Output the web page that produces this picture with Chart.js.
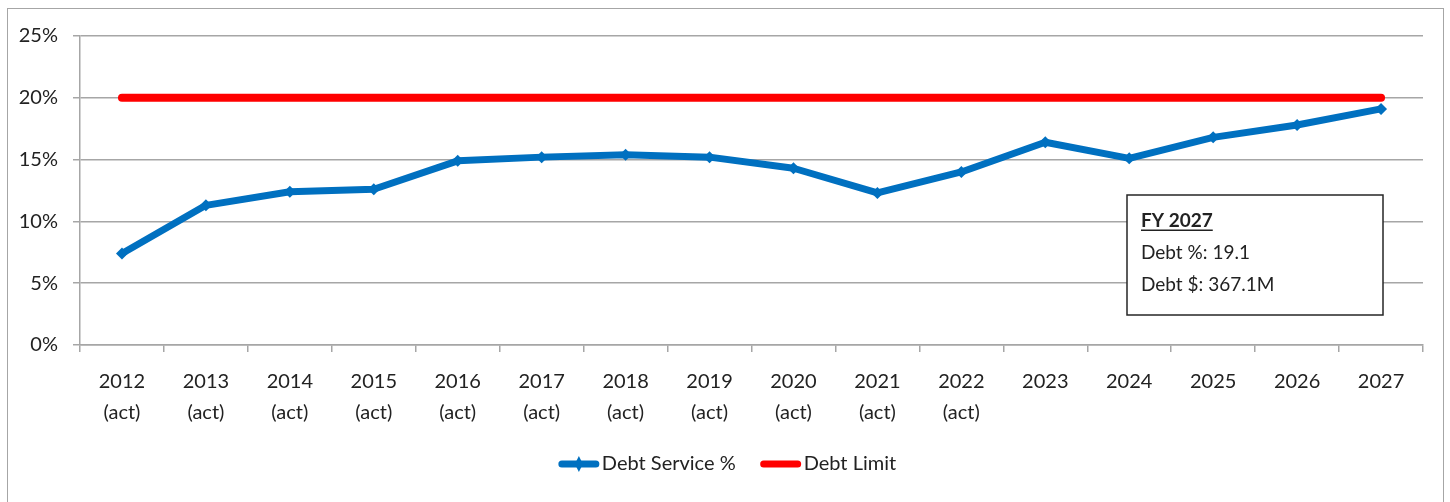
<!DOCTYPE html>
<html>
<head>
<meta charset="utf-8">
<script src="https://cdn.jsdelivr.net/npm/chart.js@4.4.1/dist/chart.umd.min.js"></script>
<style>
  html, body { margin: 0; padding: 0; background: #fff; }
  #wrap { position: relative; width: 1450px; height: 502px; overflow: hidden; }
  #frame { position: absolute; left: 7px; top: 8px; width: 1437px; height: 520px; border: 1.5px solid #a6a6a6; box-sizing: border-box; pointer-events: none; }
  canvas { position: absolute; left: 0; top: 0; }
</style>
</head>
<body>
<div id="wrap">
  <canvas id="c" width="1450" height="502"></canvas>
  <div id="frame"></div>
</div>
<script>
const years = ['2012','2013','2014','2015','2016','2017','2018','2019','2020','2021','2022','2023','2024','2025','2026','2027'];
const yearNotes = ['(act)','(act)','(act)','(act)','(act)','(act)','(act)','(act)','(act)','(act)','(act)','','','','',''];
const debtServicePct = [7.4, 11.3, 12.4, 12.6, 14.9, 15.2, 15.4, 15.2, 14.3, 12.3, 14.0, 16.4, 15.1, 16.8, 17.8, 19.1];
const debtLimit = [20, 20, 20, 20, 20, 20, 20, 20, 20, 20, 20, 20, 20, 20, 20, 20];
const yTicks = [0, 5, 10, 15, 20, 25];
const noteLines = ['FY 2027', 'Debt %: 19.1', 'Debt $: 367.1M'];

const FONT = 'Lato, "Liberation Sans", sans-serif';
const TXT = '#222222';
const GRID = '#a6a6a6';

const labels = years.map((y, i) => [y, yearNotes[i]]);

const customLegend = {
  id: 'customLegend',
  afterDraw(chart) {
    const ctx = chart.ctx;
    ctx.save();
    ctx.font = '20px ' + FONT;
    const items = chart.data.datasets.map(d => ({ text: d.label, color: d.borderColor, marker: d.pointRadius > 0, lw: d.borderWidth }));
    const sample = 42, gapT = 2, gapItem = 24;
    let total = 0;
    items.forEach((it, i) => { total += sample + gapT + ctx.measureText(it.text).width + (i < items.length - 1 ? gapItem : 0); });
    let x = 727 - total / 2;
    const y = 464;
    items.forEach(it => {
      ctx.strokeStyle = it.color;
      ctx.lineWidth = 7;
      ctx.lineCap = 'round';
      ctx.beginPath();
      ctx.moveTo(x + 4, y);
      ctx.lineTo(x + sample - 4, y);
      ctx.stroke();
      if (it.marker) {
        ctx.fillStyle = it.color;
        const cx = x + sample / 2, r = 8;
        ctx.beginPath();
        ctx.moveTo(cx, y - r); ctx.lineTo(cx + 4, y); ctx.lineTo(cx, y + r); ctx.lineTo(cx - 4, y);
        ctx.closePath(); ctx.fill();
      }
      ctx.fillStyle = TXT;
      ctx.textBaseline = 'middle';
      ctx.textAlign = 'left';
      ctx.fillText(it.text, x + sample + gapT, y);
      x += sample + gapT + ctx.measureText(it.text).width + gapItem;
    });
    ctx.restore();
  }
};

const noteBox = {
  id: 'noteBox',
  afterDraw(chart) {
    const ctx = chart.ctx;
    const left = 1127, top = 195, w = 256, h = 120;
    ctx.save();
    ctx.fillStyle = '#ffffff';
    ctx.fillRect(left, top, w, h);
    ctx.strokeStyle = '#262626';
    ctx.lineWidth = 1.5;
    ctx.strokeRect(left, top, w, h);
    ctx.fillStyle = TXT;
    ctx.textBaseline = 'alphabetic';
    ctx.textAlign = 'left';
    const tx = 1141;
    ctx.font = 'bold 19px ' + FONT;
    ctx.fillText(noteLines[0], tx, 227);
    const uw = ctx.measureText(noteLines[0]).width;
    ctx.fillRect(tx, 229.5, uw, 1.5);
    ctx.font = '19px ' + FONT;
    ctx.fillText(noteLines[1], tx, 259);
    ctx.fillText(noteLines[2], tx, 291);
    ctx.restore();
  }
};

new Chart(document.getElementById('c'), {
  type: 'line',
  data: {
    labels: labels,
    datasets: [
      {
        label: 'Debt Service %',
        data: debtServicePct,
        borderColor: '#0070C0',
        backgroundColor: '#0070C0',
        borderWidth: 7,
        borderJoinStyle: 'round',
        pointStyle: 'rectRot',
        pointRadius: 6,
        pointBorderWidth: 0,
        pointBackgroundColor: '#0070C0',
        tension: 0,
        order: 1
      },
      {
        label: 'Debt Limit',
        data: debtLimit,
        borderColor: '#FF0000',
        backgroundColor: '#FF0000',
        borderWidth: 8,
        borderCapStyle: 'round',
        pointRadius: 0,
        tension: 0,
        order: 2
      }
    ]
  },
  options: {
    responsive: false,
    animation: false,
    events: [],
    layout: { padding: { left: 0, right: 27, top: 36, bottom: 0 } },
    plugins: { legend: { display: false }, tooltip: { enabled: false } },
    scales: {
      x: {
        offset: true,
        grid: { display: true, drawOnChartArea: false, drawTicks: true, tickLength: 7, offset: true, color: GRID, lineWidth: 1.5 },
        border: { display: true, color: GRID, width: 1.5 },
        ticks: { color: TXT, font: { family: FONT, size: 20, lineHeight: 1.55 }, padding: 14, maxRotation: 0, autoSkip: false },
        afterFit(scale) { scale.height = 157; }
      },
      y: {
        min: 0, max: 25,
        afterBuildTicks(scale) { scale.ticks = yTicks.map(v => ({ value: v })); },
        grid: { color: GRID, lineWidth: 1.5, tickLength: 7, drawTicks: true },
        border: { display: true, color: GRID, width: 1.5 },
        ticks: { color: TXT, font: { family: FONT, size: 20 }, padding: 15, callback: v => v + '%' },
        afterFit(scale) { scale.width = 80; }
      }
    }
  },
  plugins: [customLegend, noteBox]
});
</script>
</body>
</html>
